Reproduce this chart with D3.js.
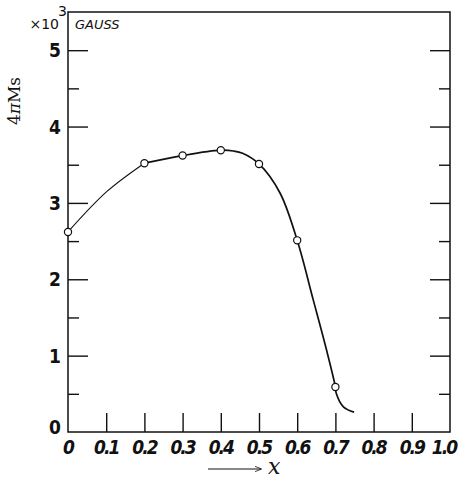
<!DOCTYPE html>
<html lang="en">
<head>
<meta charset="utf-8">
<title>4πMs vs x</title>
<script src="https://d3js.org/d3.v7.min.js"></script>
<style>
  body { margin: 0; background: #fff; }
  svg { display: block; }
</style>
</head>
<body>
<div id="chart"></div>
<script>
// measured points (open circles)
const xPoints = [0, 0.2, 0.3, 0.4, 0.5, 0.6, 0.7];
const yPoints = [2.62, 3.52, 3.62, 3.69, 3.51, 2.51, 0.59];

// hand-drawn curve
const curveLeftX = [0, 0.102, 0.2];
const curveLeftY = [2.62, 3.15, 3.52];
const curveX = [0.2, 0.3, 0.4, 0.433, 0.457, 0.5, 0.555, 0.6, 0.642, 0.677, 0.7, 0.702, 0.721, 0.749];
const curveY = [3.52, 3.62, 3.69, 3.68, 3.65, 3.51, 3.13, 2.51, 1.73, 1.07, 0.59, 0.51, 0.33, 0.26];

const xTicks = [0, 0.1, 0.2, 0.3, 0.4, 0.5, 0.6, 0.7, 0.8, 0.9, 1.0];
const xTickLabels = ["0", "0.1", "0.2", "0.3", "0.4", "0.5", "0.6", "0.7", "0.8", "0.9", "1.0"];
const yMajor = [0, 1, 2, 3, 4, 5];
const yMinor = [0.5, 1.5, 2.5, 3.5, 4.5];

const width = 460, height = 480;
const plotLeft = 68, plotRight = 450, plotTop = 12, plotBottom = 432;

const svg = d3.select('#chart').append('svg')
  .attr('width', width)
  .attr('height', height);

const x = d3.scaleLinear().domain([0, 1]).range([plotLeft, plotRight]);
const y = d3.scaleLinear().domain([0, 5.5]).range([plotBottom, plotTop]);

const ink = '#111';

// frame
svg.append('rect')
  .attr('x', plotLeft).attr('y', plotTop)
  .attr('width', plotRight - plotLeft).attr('height', plotBottom - plotTop)
  .attr('fill', 'none').attr('stroke', ink).attr('stroke-width', 1.5);

function ticks(g, axis) {
  g.call(axis).call(s => s.select('.domain').remove())
    .call(s => s.selectAll('line').attr('stroke', ink).attr('stroke-width', 1.4));
}

// left axis ticks (inward)
svg.append('g').attr('transform', `translate(${plotLeft},0)`)
  .call(ticks, d3.axisRight(y).tickValues(yMajor.filter(d => d > 0)).tickSize(20).tickFormat(''));
svg.append('g').attr('transform', `translate(${plotLeft},0)`)
  .call(ticks, d3.axisRight(y).tickValues(yMinor).tickSize(11).tickFormat(''));

// right axis ticks (inward)
svg.append('g').attr('transform', `translate(${plotRight},0)`)
  .call(ticks, d3.axisLeft(y).tickValues(yMajor.filter(d => d > 0)).tickSize(20).tickFormat(''));
svg.append('g').attr('transform', `translate(${plotRight},0)`)
  .call(ticks, d3.axisLeft(y).tickValues(yMinor).tickSize(11).tickFormat(''));

// bottom ticks (inward)
svg.append('g').attr('transform', `translate(0,${plotBottom})`)
  .call(ticks, d3.axisTop(x).tickValues(xTicks.slice(1, -1)).tickSize(19).tickFormat(''));

// y tick labels
svg.append('g')
  .selectAll('text')
  .data(yMajor)
  .join('text')
  .attr('x', plotLeft - 7)
  .attr('y', d => d === 0 ? y(d) + 2 : y(d) + 7)
  .attr('text-anchor', 'end')
  .style('font-family', '"DejaVu Sans Condensed", "DejaVu Sans", sans-serif')
  .style('font-weight', 'bold')
  .style('font-size', '19px')
  .attr('fill', ink)
  .text(d => d);

// x tick labels
svg.append('g')
  .selectAll('text')
  .data(xTicks)
  .join('text')
  .attr('x', d => d === 1 ? x(d) - 6 : x(d))
  .attr('y', plotBottom + 22)
  .attr('text-anchor', 'middle')
  .style('font-family', '"DejaVu Sans Condensed", "DejaVu Sans", sans-serif')
  .style('font-weight', 'bold')
  .style('font-style', 'italic')
  .style('font-size', '19px')
  .style('letter-spacing', '-2px')
  .attr('fill', ink)
  .text((d, i) => xTickLabels[i]);

// y axis title
svg.append('text')
  .attr('transform', `translate(20,101) rotate(-90)`)
  .attr('text-anchor', 'middle')
  .style('font-family', '"DejaVu Serif", "Liberation Serif", serif')
  .style('font-size', '17px')
  .attr('fill', ink)
  .html('4<tspan font-style="italic">π</tspan>Ms');

// unit label
svg.append('text')
  .attr('x', 59).attr('y', 29)
  .attr('text-anchor', 'end')
  .style('font-family', '"DejaVu Sans", sans-serif')
  .style('font-size', '14px')
  .attr('fill', ink)
  .text('×10');
svg.append('text')
  .attr('x', 58).attr('y', 16)
  .style('font-family', '"DejaVu Sans", sans-serif')
  .style('font-size', '14px')
  .attr('fill', ink)
  .text('3');
svg.append('text')
  .attr('x', 75).attr('y', 29)
  .style('font-family', '"DejaVu Sans", sans-serif')
  .style('font-size', '13px')
  .style('font-style', 'italic')
  .attr('fill', ink)
  .text('GAUSS');

// x axis title with arrow
svg.append('defs').append('marker')
  .attr('id', 'arrow')
  .attr('viewBox', '0 0 10 10')
  .attr('refX', 9).attr('refY', 5)
  .attr('markerWidth', 8).attr('markerHeight', 6)
  .attr('orient', 'auto')
  .append('path')
  .attr('d', 'M0,1 L10,5 L0,9')
  .attr('fill', 'none')
  .attr('stroke', ink)
  .attr('stroke-width', 1.2);
svg.append('line')
  .attr('x1', 208).attr('x2', 261)
  .attr('y1', 469).attr('y2', 469)
  .attr('stroke', ink).attr('stroke-width', 1.1)
  .attr('marker-end', 'url(#arrow)');
svg.append('text')
  .attr('x', 268).attr('y', 474)
  .style('font-family', '"DejaVu Serif", "Liberation Serif", serif')
  .style('font-style', 'italic')
  .style('font-size', '22px')
  .attr('fill', ink)
  .text('x');

// curve
const line = d3.line()
  .x(d => x(d[0]))
  .y(d => y(d[1]))
  .curve(d3.curveCatmullRom.alpha(0.5));

svg.append('path')
  .datum(curveLeftX.map((v, i) => [v, curveLeftY[i]]))
  .attr('d', line)
  .attr('fill', 'none')
  .attr('stroke', ink)
  .attr('stroke-width', 1.1);

svg.append('path')
  .datum(curveX.map((v, i) => [v, curveY[i]]))
  .attr('d', line)
  .attr('fill', 'none')
  .attr('stroke', ink)
  .attr('stroke-width', 1.7);

// markers
svg.append('g')
  .selectAll('circle')
  .data(xPoints.map((v, i) => [v, yPoints[i]]))
  .join('circle')
  .attr('cx', d => x(d[0]))
  .attr('cy', d => y(d[1]))
  .attr('r', 3.6)
  .attr('fill', '#fff')
  .attr('stroke', ink)
  .attr('stroke-width', 1.2);
</script>
</body>
</html>
